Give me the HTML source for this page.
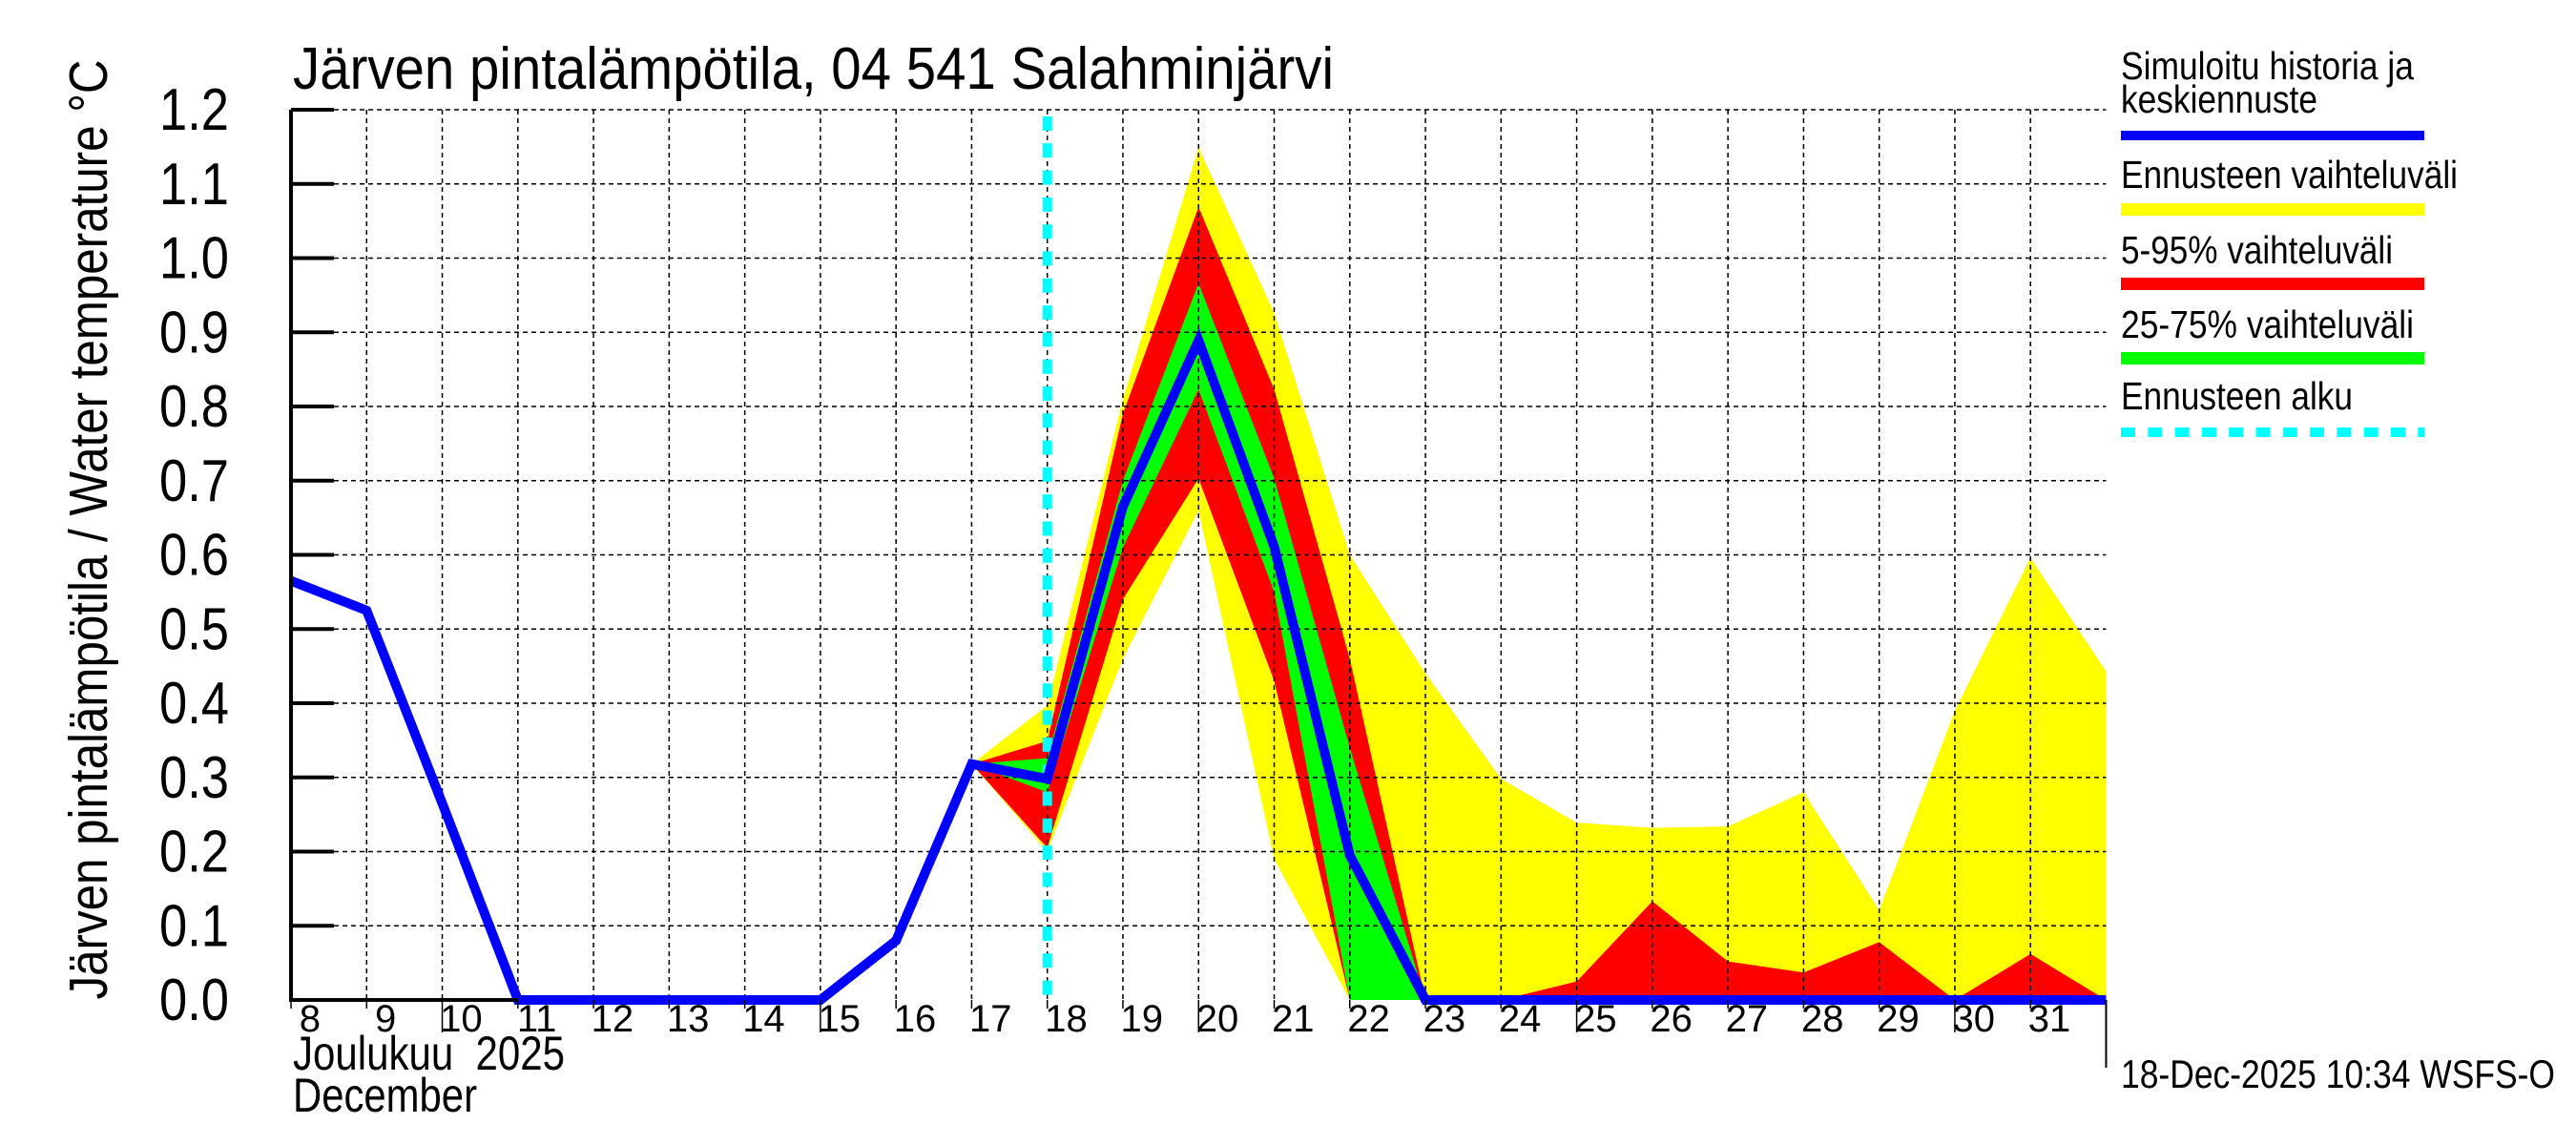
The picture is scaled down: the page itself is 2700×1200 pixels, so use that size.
<!DOCTYPE html>
<html><head><meta charset="utf-8"><style>
html,body{margin:0;padding:0;background:#fff;}
svg{display:block;font-family:"Liberation Sans",sans-serif;}
</style></head><body>
<svg id="chart" width="2700" height="1200" viewBox="0 0 2700 1200" xmlns="http://www.w3.org/2000/svg">
<rect x="0" y="0" width="2700" height="1200" fill="#fff"/>
<g id="bands"></g>
<g id="grid"></g>
<g id="lines"></g>
<g id="axes"></g>
<text x="307" y="93" font-size="62" textLength="1091" lengthAdjust="spacingAndGlyphs">Järven pintalämpötila, 04 541 Salahminjärvi</text>
<text transform="translate(112,555) rotate(-90)" text-anchor="middle" font-size="57" textLength="985" lengthAdjust="spacingAndGlyphs">Järven pintalämpötila / Water temperature °C</text>
<text x="307" y="1121" font-size="50" textLength="285" lengthAdjust="spacingAndGlyphs">Joulukuu&#160; 2025</text>
<text x="307" y="1165" font-size="50" textLength="193" lengthAdjust="spacingAndGlyphs">December</text>
<text x="2223" y="1140" font-size="42" textLength="455" lengthAdjust="spacingAndGlyphs">18-Dec-2025 10:34 WSFS-O</text>
<g>
<text x="2223" y="83" font-size="41" textLength="307" lengthAdjust="spacingAndGlyphs">Simuloitu historia ja</text>
<text x="2223" y="118" font-size="41" textLength="206" lengthAdjust="spacingAndGlyphs">keskiennuste</text>
<rect x="2223" y="137" width="318" height="10" fill="#0000ff"/>
<text x="2223" y="197" font-size="41" textLength="353" lengthAdjust="spacingAndGlyphs">Ennusteen vaihteluväli</text>
<rect x="2223" y="213" width="318" height="13" fill="#ffff00"/>
<text x="2223" y="276" font-size="41" textLength="285" lengthAdjust="spacingAndGlyphs">5-95% vaihteluväli</text>
<rect x="2223" y="291" width="318" height="13" fill="#ff0000"/>
<text x="2223" y="354" font-size="41" textLength="307" lengthAdjust="spacingAndGlyphs">25-75% vaihteluväli</text>
<rect x="2223" y="369" width="318" height="13" fill="#00ff00"/>
<text x="2223" y="429" font-size="41" textLength="243" lengthAdjust="spacingAndGlyphs">Ennusteen alku</text>
<line x1="2223" y1="453" x2="2541" y2="453" stroke="#00ffff" stroke-width="10" stroke-dasharray="15 13.3"/>
</g>
</svg>
<script>
const days = [8,9,10,11,12,13,14,15,16,17,18,19,20,21,22,23,24,25,26,27,28,29,30,31,32];
const yTicks = [0.0,0.1,0.2,0.3,0.4,0.5,0.6,0.7,0.8,0.9,1.0,1.1,1.2];
const dayLabels = ["8","9","10","11","12","13","14","15","16","17","18","19","20","21","22","23","24","25","26","27","28","29","30","31"];
const histDays = [8,9,10,11,15,16,17,18,19,20,21,22,23,32];
const histVals = [0.565,0.525,0.265,0,0,0.08,0.318,0.298,0.665,0.889,0.611,0.195,0,0];
const bandDays = [17,18,19,20,21,22,23,24,25,26,27,28,29,30,31,32];
const yellowMax = [0.318,0.397,0.81,1.149,0.926,0.60,0.44,0.298,0.239,0.232,0.234,0.28,0.121,0.39,0.596,0.443];
const yellowMin = [0.318,0.20,0.46,0.66,0.19,0,0,0,0,0,0,0,0,0,0,0];
const redMax = [0.318,0.349,0.79,1.069,0.823,0.46,0,0,0.025,0.133,0.052,0.037,0.078,0,0.062,0];
const redMin = [0.318,0.205,0.54,0.703,0.43,0,0,0,0,0,0,0,0,0,0,0];
const greenMax = [0.318,0.326,0.70,0.966,0.703,0.34,0,0,0,0,0,0,0,0,0,0];
const greenMin = [0.318,0.28,0.61,0.823,0.55,0,0,0,0,0,0,0,0,0,0,0];
const forecastStart = 18;

const NS="http://www.w3.org/2000/svg";
const X0=305, DX=79.27, Y0=1048, YTOP=115, VMAX=1.2;
function xs(d){return X0+(d-8)*DX;}
function ys(v){return Y0-v/VMAX*(Y0-YTOP);}
function mk(tag,attrs,parent){const e=document.createElementNS(NS,tag);for(const k in attrs)e.setAttribute(k,attrs[k]);parent.appendChild(e);return e;}
const XR=xs(32);

function band(mx,mn,color,name){
  let pts=[];
  for(let i=0;i<bandDays.length;i++)pts.push(xs(bandDays[i])+","+ys(mx[i]));
  for(let i=bandDays.length-1;i>=0;i--)pts.push(xs(bandDays[i])+","+ys(mn[i]));
  const p=mk('polygon',{points:pts.join(' '),fill:color},document.getElementById('bands'));
  
  
}
band(yellowMax,yellowMin,'#ffff00','band-full-range');
band(redMax,redMin,'#ff0000','band-5-95');
band(greenMax,greenMin,'#00ff00','band-25-75');

const grid=document.getElementById('grid');
yTicks.forEach((v,i)=>{
  if(i>0){const l=mk('line',{x1:X0,x2:XR,y1:ys(v),y2:ys(v),stroke:'#000','stroke-width':1.5,'stroke-dasharray':'5 4'},grid);
  
  }
});
days.forEach((d,i)=>{
  if(i>0&&i<days.length-1){const l=mk('line',{x1:xs(d),x2:xs(d),y1:YTOP,y2:Y0,stroke:'#000','stroke-width':1.5,'stroke-dasharray':'5 4'},grid);
  
  }
});

const lines=document.getElementById('lines');
const fl=mk('line',{x1:xs(forecastStart),x2:xs(forecastStart),y1:YTOP+7,y2:Y0,stroke:'#00ffff','stroke-width':10,'stroke-dasharray':'15 13.3'},lines);


const hp=mk('polyline',{points:histDays.map((d,i)=>xs(d)+","+ys(histVals[i])).join(' '),fill:'none',stroke:'#0000ff','stroke-width':10,'stroke-linejoin':'miter'},lines);



const axes=document.getElementById('axes');
let a=mk('line',{x1:X0,x2:X0,y1:YTOP,y2:Y0+2,stroke:'#000','stroke-width':4},axes);


a=mk('polyline',{points:X0+","+Y0+" "+xs(11)+","+Y0,fill:'none',stroke:'#000','stroke-width':4},axes);


a=mk('line',{x1:XR,x2:XR,y1:Y0,y2:1119,stroke:'#000','stroke-width':2},axes);


yTicks.forEach(v=>{
  const t=mk('line',{x1:X0,x2:X0+45,y1:ys(v),y2:ys(v),stroke:'#000','stroke-width':4},axes);
  
  
  const tx=mk('text',{x:167,y:ys(v)+21,'font-size':62,textLength:73,lengthAdjust:'spacingAndGlyphs'},axes);
  tx.textContent=v.toFixed(1);
  
  
});
dayLabels.forEach((lab,i)=>{
  const d=days[i];
  const long=(d%5===0);
  const t=mk('line',{x1:xs(d),x2:xs(d),y1:Y0,y2:long?1082:1057,stroke:'#000','stroke-width':1.5},axes);
  
  
  const tx=mk('text',{x:xs(d)+DX*0.25,y:1081,'text-anchor':'middle','font-size':40},axes);
  tx.textContent=lab;
  
  
});
</script>
</body></html>
